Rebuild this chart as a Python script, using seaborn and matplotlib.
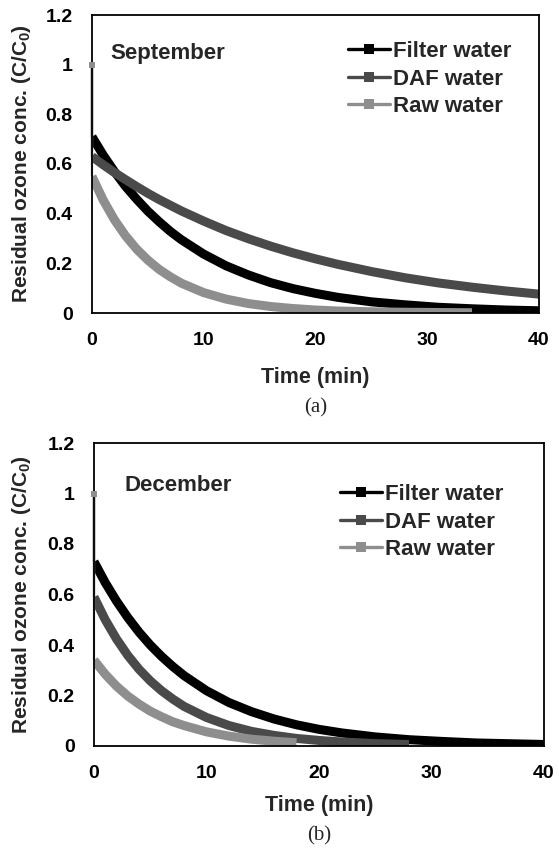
import numpy as np
import pandas as pd
import matplotlib
matplotlib.use("Agg")
import matplotlib.pyplot as plt
from matplotlib.lines import Line2D
from matplotlib.ticker import FuncFormatter
import seaborn as sns

# ---------------- data ----------------
TIME = [0, 1, 2, 3, 4, 5, 6, 7, 8, 10, 12, 14, 16, 18, 20, 22, 25, 28, 31, 34, 37, 40]
INITIAL = 1.0  # C/C0 at the very start (vertical drop at t = 0)

SEP_FILTER = [0.71, 0.636, 0.57, 0.51, 0.458, 0.41, 0.368, 0.329, 0.295, 0.237, 0.19,
              0.153, 0.122, 0.098, 0.079, 0.063, 0.045, 0.033, 0.023, 0.017, 0.012, 0.009]
SEP_DAF = [0.63, 0.597, 0.566, 0.537, 0.509, 0.482, 0.457, 0.434, 0.411, 0.37, 0.332,
           0.299, 0.269, 0.242, 0.218, 0.196, 0.167, 0.142, 0.121, 0.104, 0.089, 0.076]
SEP_RAW = [0.55, 0.455, 0.376, 0.311, 0.257, 0.213, 0.176, 0.146, 0.12, 0.082, 0.056,
           0.038, 0.026, 0.018, 0.012, 0.008, 0.005, 0.003, 0.002, 0.001, None, None]

DEC_FILTER = [0.73, 0.647, 0.574, 0.509, 0.451, 0.40, 0.355, 0.315, 0.279, 0.219, 0.172,
              0.136, 0.107, 0.084, 0.066, 0.052, 0.036, 0.025, 0.018, 0.012, 0.009, 0.006]
DEC_DAF = [0.59, 0.50, 0.424, 0.359, 0.304, 0.258, 0.219, 0.186, 0.157, 0.113, 0.081,
           0.058, 0.042, 0.03, 0.022, 0.016, 0.0095, 0.0058, None, None, None, None]
DEC_RAW = [0.34, 0.284, 0.237, 0.198, 0.166, 0.138, 0.116, 0.096, 0.081, 0.056, 0.039,
           0.027, 0.019, 0.013, None, None, None, None, None, None, None, None]

SERIES = ["Filter water", "DAF water", "Raw water"]
COLORS = {"Filter water": "#000000", "DAF water": "#4a4a4a", "Raw water": "#8e8e8e"}

X_TICKS = [0, 10, 20, 30, 40]
Y_TICKS = [0, 0.2, 0.4, 0.6, 0.8, 1.0, 1.2]

PANELS = [
    {"month": "September", "tag": "(a)", "values": [SEP_FILTER, SEP_DAF, SEP_RAW]},
    {"month": "December", "tag": "(b)", "values": [DEC_FILTER, DEC_DAF, DEC_RAW]},
]

# ---------------- style ----------------
sns.set_style("white")
plt.rcParams["font.family"] = ["Liberation Sans", "DejaVu Sans"]
plt.rcParams["font.weight"] = "bold"
plt.rcParams["mathtext.default"] = "bf"
plt.rcParams["mathtext.fontset"] = "custom"
plt.rcParams["mathtext.bf"] = "Liberation Sans:bold"
plt.rcParams["mathtext.rm"] = "Liberation Sans:bold"

fig = plt.figure(figsize=(5.59, 8.56), dpi=100)
W, H = 559, 856

# axes boxes in pixels: left, top, right, bottom
boxes = [(92, 15, 539, 313), (94, 443, 544, 746)]
xlabel_top = [367, 795]
tag_y = [408, 836]
month_pos = [(0.04, 0.87), (0.067, 0.86)]
leg_pos = [(0.573, 0.913), (0.547, 0.865)]

for i, panel in enumerate(PANELS):
    l, t, r, b = boxes[i]
    ax = fig.add_axes([l / W, 1 - b / H, (r - l) / W, (b - t) / H])

    rows = []
    for name, vals in zip(SERIES, panel["values"]):
        for tt, v in zip(TIME, vals):
            if v is not None:
                rows.append({"time": tt, "conc": v, "series": name})
    df = pd.DataFrame(rows)

    for name in SERIES:
        sub = df[df["series"] == name]
        c0 = sub["conc"].iloc[0]
        spike = pd.DataFrame({"time": [TIME[0], TIME[0]], "conc": [INITIAL, c0]})
        sns.lineplot(data=sub, x="time", y="conc", ax=ax, color=COLORS[name],
                     lw=6.5, estimator=None, sort=False, legend=False,
                     solid_capstyle="butt", solid_joinstyle="round")
        sns.lineplot(data=spike, x="time", y="conc", ax=ax, color=COLORS[name],
                     lw=1.6, estimator=None, sort=False, legend=False,
                     clip_on=False)
        sns.scatterplot(x=[TIME[0]], y=[INITIAL], ax=ax, color=COLORS[name],
                        marker="s", s=24, linewidth=0, legend=False, zorder=5,
                        clip_on=False)

    ax.set_xlim(0, 40)
    ax.set_ylim(0, 1.2)
    ax.set_xticks(X_TICKS)
    ax.set_yticks(Y_TICKS)
    ax.yaxis.set_major_formatter(FuncFormatter(lambda v, p: f"{v:g}"))
    ax.tick_params(direction="in", length=3, width=0.8, pad=14,
                   labelsize=14, colors="black")
    for lab in ax.get_xticklabels() + ax.get_yticklabels():
        lab.set_fontweight("bold")
    for sp in ax.spines.values():
        sp.set_color("black")
        sp.set_linewidth(1.3)

    ax.set_xlabel("Time (min)", fontsize=15.5, fontweight="bold")
    ax.set_ylabel("Residual ozone conc. (C/C$_0$)", fontsize=15, fontweight="bold")
    ax.xaxis.set_label_coords(0.5, -(xlabel_top[i] - b) / (b - t))
    ax.yaxis.set_label_coords(-(l - 33) / (r - l), 0.5)

    ax.text(month_pos[i][0], month_pos[i][1], panel["month"], transform=ax.transAxes,
            fontsize=16, fontweight="bold", va="center", ha="left")
    ax.text(0.5, -(tag_y[i] - b) / (b - t), panel["tag"], transform=ax.transAxes,
            fontsize=15, fontweight="normal", family="Liberation Serif",
            ha="center", va="center")

    handles = [Line2D([0], [0], color=COLORS[n], lw=2.4, marker="s", markersize=7,
                      markeredgewidth=0) for n in SERIES]
    leg = ax.legend(handles, SERIES, loc="upper left", bbox_to_anchor=leg_pos[i],
                    frameon=False, handlelength=1.9, handletextpad=0.1,
                    labelspacing=0.3, borderpad=0, borderaxespad=0,
                    prop={"weight": "bold", "size": 16})

fig.savefig("out.png", dpi=100)
